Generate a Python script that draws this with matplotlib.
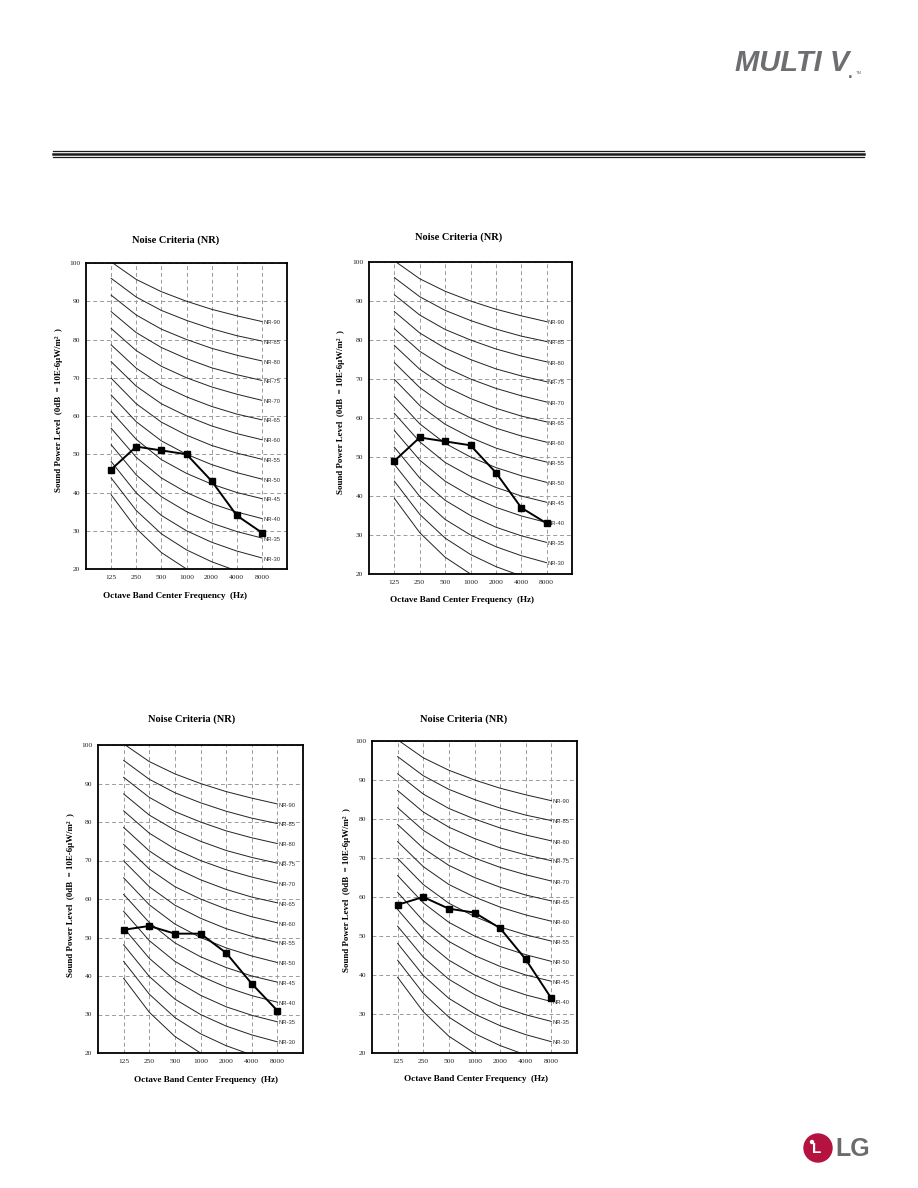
import matplotlib.pyplot as plt
from matplotlib.patches import Ellipse
from matplotlib.lines import Line2D

# ----------------------------
# data
# ----------------------------
bands = ['125', '250', '500', '1000', '2000', '4000', '8000']

# NR curves, levels at 125 ... 8000 Hz
nr_levels = [20, 25, 30, 35, 40, 45, 50, 55, 60, 65, 70, 75, 80, 85, 90]
nr_curves = [
    [39.4, 30.6, 24.3, 20.0, 16.8, 14.4, 12.6],
    [43.8, 35.3, 29.2, 25.0, 21.9, 19.5, 17.8],
    [48.1, 39.9, 34.0, 30.0, 27.0, 24.7, 22.9],
    [52.5, 44.6, 38.9, 35.0, 32.0, 29.8, 28.1],
    [56.8, 49.2, 43.8, 40.0, 37.1, 34.9, 33.2],
    [61.2, 53.9, 48.6, 45.0, 42.2, 40.0, 38.4],
    [65.5, 58.5, 53.5, 50.0, 47.3, 45.2, 43.5],
    [69.9, 63.2, 58.4, 55.0, 52.3, 50.3, 48.7],
    [74.2, 67.8, 63.2, 60.0, 57.4, 55.4, 53.8],
    [78.6, 72.5, 68.1, 65.0, 62.5, 60.5, 59.0],
    [82.9, 77.1, 73.0, 70.0, 67.6, 65.7, 64.1],
    [87.3, 81.8, 77.9, 75.0, 72.6, 70.8, 69.3],
    [91.6, 86.4, 82.7, 80.0, 77.7, 75.9, 74.4],
    [96.0, 91.1, 87.6, 85.0, 82.8, 81.0, 79.6],
    [100.3, 95.7, 92.5, 90.0, 87.9, 86.2, 84.7],
]

# measured sound power levels of the four units
unit_a = [46, 52, 51, 50, 43, 34, 29.5]
unit_b = [49, 55, 54, 53, 46, 37, 33]
unit_c = [52, 53, 51, 51, 46, 38, 31]
unit_d = [58, 60, 57, 56, 52, 44, 34]

# ----------------------------
# page layout (pixels)
# ----------------------------
W, H = 918, 1188
fig = plt.figure(figsize=(W / 100, H / 100), dpi=100)

SERIF = ['Liberation Serif', 'DejaVu Serif']
SANS = ['Liberation Sans', 'DejaVu Sans']


def fx(x):
    return x / W


def fy(y):
    return 1 - y / H


def nr_chart(values, frame, title_xy, xlabel_xy, ylabel_xy):
    x0, y0, x1, y1 = frame
    ax = fig.add_axes([fx(x0), fy(y1), (x1 - x0) / W, (y1 - y0) / H])
    xs = range(1, len(bands) + 1)

    for lvl, curve in zip(nr_levels, nr_curves):
        ax.plot(xs, curve, color='#222222', lw=0.7, zorder=2)
        if lvl >= 30:
            ax.text(7.05, curve[-1] - 0.3, f'NR-{lvl}', fontsize=4.2,
                    family=SANS, color='#333333', va='center', ha='left',
                    zorder=3)

    ax.plot(xs, values, color='black', lw=1.4, marker='s', ms=4.2,
            zorder=4)

    ax.set_xlim(0, 8)
    ax.set_ylim(20, 100)
    ax.set_xticks(list(xs))
    ax.set_xticklabels(bands)
    ax.set_yticks(range(20, 101, 10))
    ax.tick_params(length=0, labelsize=5.4, pad=4)
    for lab in ax.get_xticklabels() + ax.get_yticklabels():
        lab.set_family(SERIF)
        lab.set_color('#222222')
    ax.grid(True, ls=(0, (4, 3)), color='#9a9a9a', lw=0.7)
    for sp in ax.spines.values():
        sp.set_linewidth(1.3)

    fig.text(fx(title_xy[0]), fy(title_xy[1]), 'Noise Criteria (NR)',
             fontsize=7.5, fontweight='bold', family=SERIF,
             ha='center', va='center')
    fig.text(fx(xlabel_xy[0]), fy(xlabel_xy[1]),
             'Octave Band Center Frequency  (Hz)',
             fontsize=6.6, fontweight='bold', family=SERIF,
             ha='center', va='center')
    fig.text(fx(ylabel_xy[0]), fy(ylabel_xy[1]),
             'Sound Power Level  (0dB  = 10E-6μW/m²  )',
             fontsize=6.4, fontweight='bold', family=SERIF,
             ha='center', va='center', rotation=90)
    return ax


nr_chart(unit_a, (86, 263, 287, 569), (176, 240), (175, 596), (59, 410))
nr_chart(unit_b, (369, 262, 572, 574), (459, 237), (462, 600), (341, 412))
nr_chart(unit_c, (98, 745, 303, 1053), (192, 719), (206, 1080), (71, 895))
nr_chart(unit_d, (372, 741, 577, 1053), (464, 719), (476, 1079), (347, 890))

# ----------------------------
# header / footer decoration
# ----------------------------
fig.text(fx(735), fy(63), 'MULTI V', fontsize=21, fontweight='heavy',
         style='italic', family=SANS, color='#6d6e71', ha='left',
         va='center')
fig.text(fx(848), fy(73), '.', fontsize=12, fontweight='bold', family=SANS,
         color='#6d6e71', ha='left', va='center')
fig.text(fx(856), fy(73), 'TM', fontsize=3, family=SANS, color='#6d6e71',
         ha='left', va='center')

for y, lw in [(150.5, 0.9), (153.5, 1.8), (156.5, 0.9)]:
    fig.add_artist(Line2D([fx(53), fx(864)], [fy(y), fy(y)], color='#1a1a1a',
                          lw=lw, transform=fig.transFigure))

cx, cy, r = 818, 1148, 14
fig.add_artist(Ellipse((fx(cx), fy(cy)), 2 * r / W, 2 * r / H,
                       color='#b5123f', transform=fig.transFigure))
fig.text(fx(cx - 1), fy(cy + 1), 'L', fontsize=11, fontweight='bold',
         family=SANS, color='white', ha='center', va='center')
fig.add_artist(Ellipse((fx(cx - 6), fy(cy - 6)), 3 / W, 3 / H,
                       color='white', transform=fig.transFigure))
fig.text(fx(835), fy(1149), 'LG', fontsize=18, fontweight='bold',
         family=SANS, color='#6b6b6b', ha='left', va='center')

fig.savefig('out.png', dpi=100, facecolor='white')
